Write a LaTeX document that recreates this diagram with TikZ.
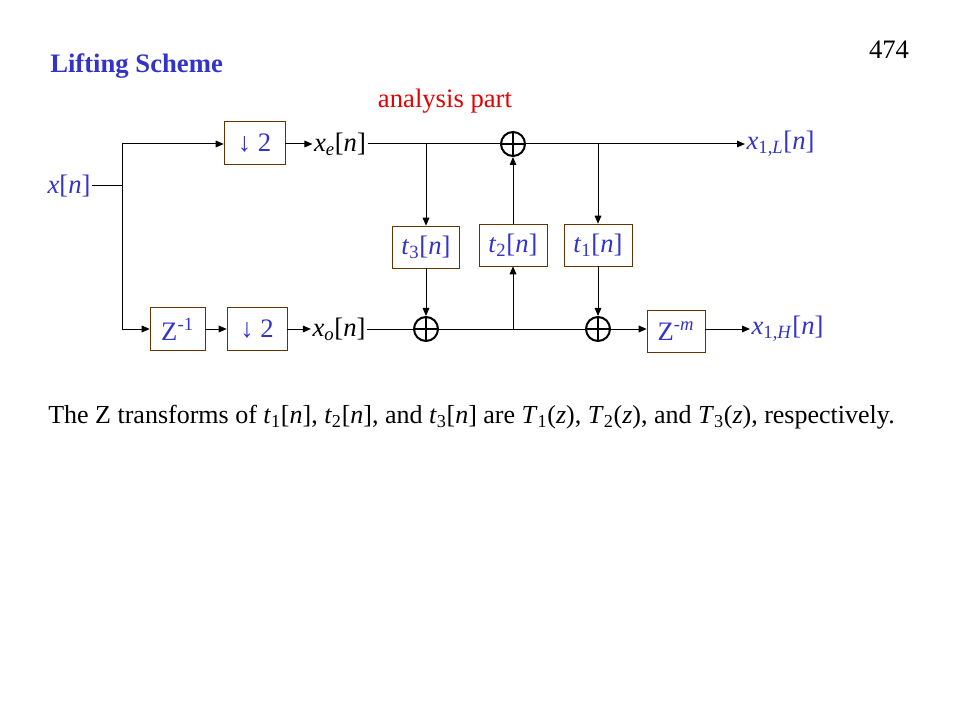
\documentclass[tikz,border=0pt]{standalone}
\usepackage{fontspec}
\setmainfont{Liberation Serif}
\usepackage{xcolor}
\usepackage{tikz}
\usetikzlibrary{positioning,calc,arrows.meta}
\definecolor{LabelBlue}{RGB}{51,51,204}
\definecolor{BoxBrown}{RGB}{102,51,0}
\definecolor{PartRed}{RGB}{230,0,0}
\newcommand{\sgl}[2]{\textit{#1}\textsubscript{#2}[\textit{n}]}
\tikzset{
    blockbox/.style={draw=BoxBrown, fill=white, text=LabelBlue, inner sep=0pt, font=\fontsize{20}{24}\selectfont},
    adder/.style={circle, draw=black, line width=1.5pt, minimum size=18pt, inner sep=0pt,
        path picture={\draw[line width=1.5pt] (path picture bounding box.north) -- (path picture bounding box.south)
            (path picture bounding box.west) -- (path picture bounding box.east);}},
    sigtext/.style={inner sep=1pt, font=\fontsize{20}{24}\selectfont},
    sigline/.style={draw=black, line width=0.75pt},
    sigarrow/.style={sigline, -{Triangle[length=6pt, width=5pt]}}
}
\begin{document}
\begin{tikzpicture}[x=0.75pt, y=-0.75pt]
    \useasboundingbox[fill=white] (0,0) rectangle (960,720);
    % headings
    \node[anchor=west, inner sep=0pt, text=LabelBlue, font=\fontsize{20}{24}\selectfont\bfseries] (title) at (50,66) {Lifting Scheme};
    \node[font=\fontsize{20}{24}\selectfont] (page) at (889,50) {474};
    \node[text=PartRed, font=\fontsize{20}{24}\selectfont] (part) at (445,101) {analysis part};

    % input and split
    \node[sigtext, text=LabelBlue] (xin) at (69,186) {\textit{x}[\textit{n}]};
    \coordinate (split) at (122,186);
    \coordinate (ctop) at (122,144);
    \coordinate (cbot) at (122,329);

    % even branch
    \node[blockbox, minimum width=45.75pt, minimum height=32.25pt] (dn1) at (254.5,143) {↓ 2};
    \node[sigtext] (xe) at (340,144) {\sgl{x}{\textit{e}}};
    \coordinate (tap3) at (426,144);
    \node[adder] (addL) at (513,144) {};
    \coordinate (tap1) at (598,144);
    \node[sigtext, text=LabelBlue, anchor=west] (xL) at (745,144) {\sgl{x}{1,\textit{L}}};

    % lifting steps
    \node[blockbox, minimum width=50.25pt, minimum height=31.5pt] (t3) at (426,247) {\sgl{t}{3}};
    \node[blockbox, minimum width=51pt, minimum height=31.5pt] (t2) at (513,245) {\sgl{t}{2}};
    \node[blockbox, minimum width=51pt, minimum height=31.5pt] (t1) at (598,245) {\sgl{t}{1}};

    % odd branch
    \node[blockbox, minimum width=41.25pt, minimum height=32.25pt] (z1) at (177.5,329) {Z\textsuperscript{-1}};
    \node[blockbox, minimum width=45pt, minimum height=32.25pt] (dn2) at (257,329) {↓ 2};
    \node[sigtext] (xo) at (339,329) {\sgl{x}{\textit{o}}};
    \node[adder] (addH3) at (426,329) {};
    \coordinate (tap2) at (513,329);
    \node[adder] (addH1) at (598,329) {};
    \node[blockbox, minimum width=43.5pt, minimum height=31.5pt] (zm) at (676,331) {Z\textsuperscript{-\textit{m}}};
    \node[sigtext, text=LabelBlue, anchor=west] (xH) at (750,329) {\sgl{x}{1,\textit{H}}};

    \draw[sigline] (xin) -- (split);
    \draw[sigline] (ctop) -- (cbot);
    \draw[sigarrow] (ctop) -- (dn1.west |- ctop);
    \draw[sigarrow] (dn1.east |- xe) -- (xe);
    \draw[sigline] (xe) -- (addL);
    \draw[sigarrow] (addL) -- (xL);
    \draw[sigarrow] (tap3) -- (t3);
    \draw[sigarrow] (t3) -- (addH3);
    \draw[sigarrow] (tap2) -- (t2);
    \draw[sigarrow] (t2) -- (addL);
    \draw[sigarrow] (tap1) -- (t1);
    \draw[sigarrow] (t1) -- (addH1);
    \draw[sigarrow] (cbot) -- (z1);
    \draw[sigarrow] (z1) -- (dn2);
    \draw[sigarrow] (dn2) -- (xo);
    \draw[sigline] (xo) -- (addH3);
    \draw[sigline] (addH3) -- (addH1);
    \draw[sigarrow] (addH1) -- (zm.west |- addH1);
    \draw[sigarrow] (zm.east |- xH) -- (xH);

    % note
    \node[anchor=west, inner sep=0pt, font=\fontsize{19.5}{23}\selectfont] (note) at (48,417)
        {The Z transforms of \sgl{t}{1}, \sgl{t}{2}, and \sgl{t}{3} are \textit{T}\textsubscript{1}(\textit{z}), \textit{T}\textsubscript{2}(\textit{z}), and \textit{T}\textsubscript{3}(\textit{z}), respectively.};
\end{tikzpicture}
\end{document}
